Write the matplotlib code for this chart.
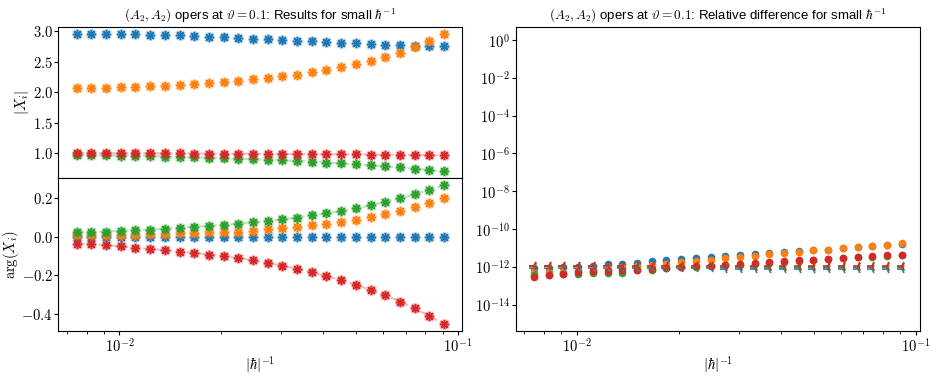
import matplotlib
matplotlib.use("Agg")
import matplotlib.pyplot as plt
import numpy as np
from matplotlib.ticker import FuncFormatter, LogLocator, NullLocator, MultipleLocator, NullFormatter

plt.rcParams['font.family'] = ['Liberation Sans', 'DejaVu Sans']
plt.rcParams['mathtext.fontset'] = 'cm'
plt.rcParams['axes.unicode_minus'] = True

# |hbar|^-1 sample points
hbar_inv = [0.00748, 0.00827, 0.00913, 0.01009, 0.01115, 0.01232, 0.01362, 0.01505,
            0.01663, 0.01837, 0.02030, 0.02243, 0.02479, 0.02739, 0.03027, 0.03345,
            0.03696, 0.04084, 0.04513, 0.04987, 0.05510, 0.06089, 0.06728, 0.07434,
            0.08215, 0.09078]

# |X_i|
abs_x1 = [2.957, 2.956, 2.952, 2.949, 2.943, 2.939, 2.932, 2.926, 2.918, 2.908, 2.897, 2.886, 2.875,
          2.864, 2.853, 2.842, 2.831, 2.818, 2.806, 2.795, 2.785, 2.775, 2.765, 2.757, 2.752, 2.749]
abs_x2 = [2.060, 2.061, 2.070, 2.076, 2.086, 2.092, 2.103, 2.114, 2.132, 2.146, 2.168, 2.185, 2.207,
          2.226, 2.255, 2.283, 2.321, 2.359, 2.408, 2.457, 2.505, 2.576, 2.647, 2.739, 2.837, 2.957]
abs_x3 = [0.970, 0.966, 0.962, 0.958, 0.954, 0.949, 0.944, 0.938, 0.932, 0.925, 0.918, 0.910, 0.901,
          0.892, 0.882, 0.871, 0.859, 0.846, 0.832, 0.817, 0.801, 0.784, 0.765, 0.745, 0.724, 0.701]
abs_x4 = [0.998, 0.998, 0.997, 0.997, 0.996, 0.996, 0.995, 0.995, 0.994, 0.993, 0.992, 0.991, 0.990,
          0.989, 0.987, 0.986, 0.984, 0.982, 0.980, 0.978, 0.976, 0.973, 0.971, 0.968, 0.965, 0.962]

# arg(X_i)
arg_x1 = [0.0, 0.0, 0.0, 0.0, 0.0, 0.0, 0.0, 0.0, 0.0, 0.0, 0.0, 0.0, 0.0,
          0.0, 0.0, 0.0, 0.0, 0.0, 0.0, 0.0, 0.0, 0.0, 0.0, 0.0, 0.0, 0.0]
arg_x2 = [0.007, 0.007, 0.009, 0.009, 0.010, 0.012, 0.014, 0.016, 0.018, 0.021, 0.023, 0.026, 0.031,
          0.038, 0.045, 0.050, 0.059, 0.067, 0.076, 0.086, 0.100, 0.114, 0.131, 0.150, 0.173, 0.198]
arg_x3 = [0.021, 0.023, 0.026, 0.029, 0.033, 0.036, 0.040, 0.045, 0.050, 0.055, 0.062, 0.067, 0.074,
          0.079, 0.088, 0.098, 0.109, 0.119, 0.131, 0.145, 0.160, 0.178, 0.196, 0.217, 0.240, 0.264]
arg_x4 = [-0.036, -0.039, -0.044, -0.050, -0.057, -0.064, -0.070, -0.078, -0.084, -0.093, -0.101, -0.110, -0.122,
          -0.137, -0.150, -0.165, -0.184, -0.203, -0.225, -0.248, -0.274, -0.301, -0.334, -0.370, -0.408, -0.450]

# relative differences, log10
rel_dot1 = [-12.08, -12.06, -12.04, -12.01, -11.96, -11.88, -11.84, -11.78, -11.71, -11.65, -11.60, -11.54, -11.49,
            -11.44, -11.39, -11.35, -11.27, -11.20, -11.15, -11.12, -11.095, -11.03, -10.98, -10.90, -10.84, -10.78]
rel_dot2 = [-12.26, -12.27, -12.26, -12.24, -12.20, -12.10, -12.04, -11.98, -11.91, -11.83, -11.77, -11.70, -11.62,
            -11.56, -11.49, -11.42, -11.35, -11.28, -11.21, -11.14, -11.09, -11.02, -10.97, -10.89, -10.83, -10.77]
rel_dot3 = [-12.45, -12.42, -12.39, -12.37, -12.35, -12.33, -12.32, -12.18, -12.15, -12.08, -12.04, -12.00, -11.97,
            -11.92, -11.90, -11.85, -11.80, -11.75, -11.69, -11.65, -11.61, -11.56, -11.51, -11.47, -11.43, -11.39]
rel_dot4 = [-12.52, -12.42, -12.36, -12.30, -12.24, -12.20, -12.16, -12.15, -12.12, -12.05, -12.01, -11.97, -11.94,
            -11.89, -11.87, -11.82, -11.77, -11.72, -11.66, -11.62, -11.58, -11.53, -11.48, -11.44, -11.40, -11.36]
rel_tri1 = [-12.08, -12.08, -12.08, -12.07, -12.08, -12.08, -12.08, -12.09, -12.09, -12.09, -12.09, -12.09, -12.09,
            -12.10, -12.10, -12.10, -12.10, -12.10, -12.10, -12.10, -12.10, -12.10, -12.10, -12.10, -12.10, -12.10]
rel_tri2 = [-12.02, -12.02, -12.02, -12.02, -12.02, -12.02, -12.03, -12.03, -12.03, -12.03, -12.03, -12.03, -12.03,
            -12.04, -12.04, -12.04, -12.04, -12.04, -12.04, -12.04, -12.04, -12.04, -12.04, -12.04, -12.04, -12.04]
rel_tri3 = [-11.98, -11.98, -11.98, -11.98, -11.98, -11.98, -11.99, -11.99, -11.99, -11.99, -11.99, -11.99, -11.99,
            -12.00, -12.00, -12.00, -12.00, -12.00, -12.00, -12.00, -12.00, -12.00, -12.00, -12.00, -12.00, -12.00]
rel_tri4 = [-11.94, -11.94, -11.94, -11.94, -11.95, -11.95, -11.95, -11.95, -11.95, -11.95, -11.96, -11.96, -11.96,
            -11.96, -11.96, -11.96, -11.96, -11.96, -11.96, -11.96, -11.96, -11.96, -11.96, -11.96, -11.96, -11.96]

colors = ['tab:blue', 'tab:orange', 'tab:green', 'tab:red']
title_a = r'$(A_2, A_2)$ opers at $\vartheta = 0.1$: Results for small $\hbar^{-1}$'
title_b = r'$(A_2, A_2)$ opers at $\vartheta = 0.1$: Relative difference for small $\hbar^{-1}$'

lin_fmt = FuncFormatter(lambda v, p: r'$%.1f$' % v if abs(v) > 1e-9 else r'$0.0$')
log_fmt = FuncFormatter(lambda v, p: r'$10^{%d}$' % round(np.log10(v)))

fig = plt.figure(figsize=(9.38, 3.76), dpi=100)
ax_abs = fig.add_axes([0.0622, 0.5258, 0.4307, 0.4032])
ax_arg = fig.add_axes([0.0622, 0.1197, 0.4307, 0.4061], sharex=ax_abs)
ax_rel = fig.add_axes([0.5498, 0.1197, 0.4310, 0.8093])

star = (8, 2, 0)
for data, ax in [([abs_x1, abs_x2, abs_x3, abs_x4], ax_abs), ([arg_x1, arg_x2, arg_x3, arg_x4], ax_arg)]:
    for k, (y, c) in enumerate(zip(data, colors)):
        ls = '--' if k >= 2 else ''
        ax.plot(hbar_inv, y, ls=ls, marker=star, ms=8, mew=2.2, color=c, alpha=0.3, lw=1.5)
        ax.plot(hbar_inv, y, ls='', marker=star, ms=6.5, mew=1.1, color=c)

ax_abs.set_xscale('log')
ax_abs.set_title(title_a, fontsize=9.5, pad=5)
ax_abs.set_ylabel(r'$|X_i|$', fontsize=10.5, labelpad=1)
ax_arg.set_ylabel(r'$\arg(X_i)$', fontsize=10.5, labelpad=0)
ax_arg.set_xlabel(r'$|\hbar|^{-1}$', fontsize=10.5, labelpad=0)
ax_abs.yaxis.set_major_locator(MultipleLocator(0.5))
ax_arg.yaxis.set_major_locator(MultipleLocator(0.2))
for ax in (ax_abs, ax_arg):
    ax.yaxis.set_major_formatter(lin_fmt)
    ax.tick_params(labelsize=10.5, length=3, pad=1)
    ax.tick_params(which='minor', length=2)
ax_arg.xaxis.set_major_formatter(log_fmt)
ax_arg.xaxis.set_minor_formatter(NullFormatter())
ax_abs.tick_params(axis='x', which='both', labelbottom=False)

dots = [rel_dot1, rel_dot2, rel_dot3, rel_dot4]
tris = [rel_tri1, rel_tri2, rel_tri3, rel_tri4]
for y, c in zip(dots, colors):
    ax_rel.plot(hbar_inv, 10 ** np.array(y), ls='', marker='o', ms=4.5, color=c)
for y, c in zip(tris, colors):
    ax_rel.plot(hbar_inv, 10 ** np.array(y), ls='', marker='3', ms=7, mew=1.2, color=c)
ax_rel.set_xscale('log')
ax_rel.set_yscale('log')
ax_rel.set_ylim(10 ** -15.4, 10 ** 0.7)
ax_rel.yaxis.set_major_locator(LogLocator(base=10, subs=(1.0,), numticks=9))
ax_rel.yaxis.set_major_formatter(log_fmt)
ax_rel.yaxis.set_minor_locator(NullLocator())
ax_rel.xaxis.set_major_formatter(log_fmt)
ax_rel.xaxis.set_minor_formatter(NullFormatter())
ax_rel.set_title(title_b, fontsize=9.5, pad=5)
ax_rel.set_xlabel(r'$|\hbar|^{-1}$', fontsize=10.5, labelpad=0)
ax_rel.tick_params(labelsize=10.5, length=3, pad=1)
ax_rel.tick_params(which='minor', length=2)

fig.savefig('out.png', dpi=100)
